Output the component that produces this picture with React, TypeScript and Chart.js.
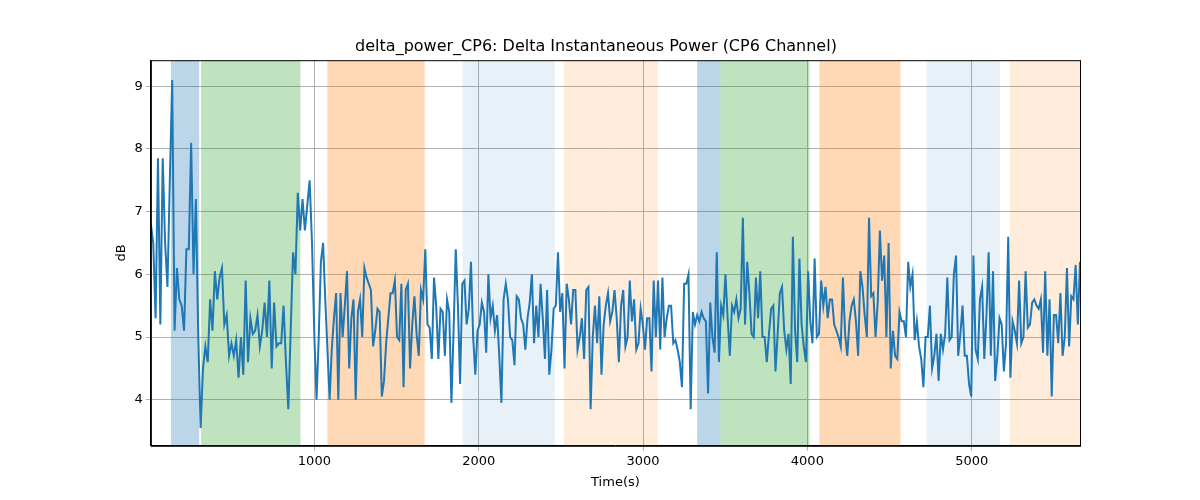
import React, { useEffect, useRef } from "react";
import { Chart, registerables } from "chart.js";
Chart.register(...registerables);

const values: number[] = [6.8, 6.5, 5.3, 7.85, 5.2, 7.85, 6.5, 5.8, 7.5, 9.1, 5.1, 6.1, 5.6, 5.5, 5.1, 6.4, 6.4, 8.1, 6.0, 7.2, 5.0, 3.55, 4.5, 4.85, 4.6, 5.6, 5.1, 6.05, 5.6, 5.95, 6.1, 5.2, 5.35, 4.7, 4.9, 4.7, 4.95, 4.35, 5.0, 4.4, 5.9, 4.6, 5.3, 5.05, 5.1, 5.35, 4.85, 5.1, 5.55, 5.0, 5.9, 4.5, 5.55, 4.85, 4.9, 4.9, 5.5, 4.6, 3.85, 5.1, 6.35, 6.0, 7.3, 6.7, 7.2, 6.7, 7.1, 7.5, 6.5, 5.0, 4.0, 5.0, 6.2, 6.5, 5.6, 4.8, 4.0, 4.8, 5.3, 5.7, 4.0, 5.7, 5.0, 5.5, 6.05, 4.5, 5.3, 5.6, 4.0, 5.4, 5.6, 5.0, 6.1, 5.95, 5.85, 5.75, 4.85, 5.1, 5.45, 5.4, 4.05, 4.3, 4.9, 5.3, 5.7, 5.7, 5.9, 5.0, 4.95, 5.85, 4.2, 5.75, 5.85, 4.5, 5.2, 5.65, 5.05, 4.7, 5.75, 5.6, 6.4, 5.2, 5.15, 4.65, 5.95, 5.5, 4.65, 5.45, 5.4, 4.7, 5.6, 5.4, 3.95, 5.1, 6.4, 5.5, 4.25, 5.85, 5.9, 5.2, 5.45, 6.2, 5.0, 4.4, 5.1, 5.2, 5.55, 5.4, 4.75, 6.0, 5.3, 5.5, 5.1, 5.35, 4.7, 3.95, 5.6, 5.85, 5.6, 5.0, 4.95, 4.55, 5.65, 5.6, 5.3, 5.2, 4.8, 5.3, 5.55, 6.0, 4.9, 5.5, 5.0, 5.85, 5.3, 4.65, 5.75, 4.4, 4.8, 5.45, 5.5, 6.35, 5.4, 5.7, 4.5, 5.85, 5.6, 5.2, 5.75, 5.75, 4.8, 5.0, 5.3, 4.65, 5.75, 5.8, 3.85, 5.0, 5.5, 4.9, 5.65, 4.4, 5.2, 5.5, 5.7, 5.25, 5.4, 5.75, 5.3, 4.6, 5.5, 5.75, 4.85, 5.0, 5.9, 5.25, 5.6, 4.8, 4.9, 5.45, 5.2, 4.8, 5.3, 5.3, 4.45, 5.9, 5.0, 5.9, 4.8, 5.95, 5.0, 5.3, 5.5, 5.5, 4.9, 4.95, 4.8, 4.6, 4.2, 5.85, 5.85, 6.0, 3.85, 5.4, 5.2, 5.35, 5.25, 5.4, 5.3, 5.25, 4.1, 5.55, 5.0, 4.75, 6.35, 4.6, 5.5, 5.35, 6.0, 5.3, 4.7, 5.5, 5.4, 5.6, 5.3, 5.45, 6.9, 5.2, 6.2, 5.7, 5.05, 5.0, 5.95, 5.3, 6.05, 5.0, 5.0, 4.6, 5.05, 5.45, 5.5, 4.45, 5.05, 5.7, 5.8, 5.1, 4.8, 5.05, 4.25, 6.6, 5.1, 4.6, 6.25, 5.2, 4.85, 4.6, 6.05, 5.25, 4.9, 6.25, 5.0, 5.05, 5.9, 5.5, 5.8, 5.3, 5.6, 5.6, 5.2, 5.1, 5.0, 4.85, 5.95, 5.05, 4.7, 5.25, 5.5, 5.6, 5.25, 4.7, 6.05, 5.8, 5.35, 5.0, 6.9, 5.65, 5.7, 5.0, 5.55, 6.7, 5.9, 6.3, 5.0, 6.5, 4.5, 5.1, 4.7, 4.65, 5.4, 5.25, 5.25, 5.0, 6.2, 5.8, 6.0, 4.95, 5.25, 4.85, 4.65, 4.2, 5.0, 5.0, 5.5, 4.5, 4.7, 5.05, 4.3, 5.05, 4.8, 5.05, 5.95, 4.95, 5.0, 6.0, 6.3, 4.7, 5.05, 5.5, 4.7, 4.7, 4.25, 4.05, 6.3, 4.8, 4.65, 5.6, 5.8, 4.65, 5.35, 6.35, 4.7, 6.05, 4.3, 4.7, 5.3, 5.2, 4.45, 4.9, 6.6, 4.35, 5.25, 5.1, 4.9, 5.9, 4.9, 5.0, 6.05, 5.15, 5.2, 5.55, 5.6, 5.5, 5.45, 5.6, 4.75, 6.05, 4.7, 5.6, 4.05, 5.35, 5.35, 4.9, 5.7, 4.7, 5.0, 6.1, 4.85, 5.65, 5.6, 6.15, 5.2, 6.2];

const tStart = 5;
const tEnd = 5659;
const xTicks = [1000, 2000, 3000, 4000, 5000];
const yTicks = [4, 5, 6, 7, 8, 9];
const spanStarts = [127, 311, 1079, 1902, 2518, 3329, 3470, 4073, 4726, 5232];
const spanEnds = [299, 915, 1671, 2463, 3091, 3470, 4012, 4567, 5171, 5700];
const spanColors = [
  "rgba(31,119,180,0.3)", "rgba(44,160,44,0.3)", "rgba(255,127,14,0.3)",
  "rgba(31,119,180,0.1)", "rgba(255,127,14,0.15)",
  "rgba(31,119,180,0.3)", "rgba(44,160,44,0.3)", "rgba(255,127,14,0.3)",
  "rgba(31,119,180,0.1)", "rgba(255,127,14,0.15)",
];

const earlyCount = 70;
const earlyEnd = 1000;
const points = values.map((v, i) => {
  const x = i < earlyCount
    ? tStart + (i * (earlyEnd - tStart)) / (earlyCount - 1)
    : earlyEnd + ((i - earlyCount + 1) * (tEnd - earlyEnd)) / (values.length - earlyCount);
  return { x, y: v };
});

const spanPlugin = {
  id: "spans",
  beforeDatasetsDraw(chart: any) {
    const { ctx, chartArea, scales } = chart;
    ctx.save();
    ctx.beginPath();
    ctx.rect(chartArea.left, chartArea.top, chartArea.right - chartArea.left, chartArea.bottom - chartArea.top);
    ctx.clip();
    spanStarts.forEach((s, i) => {
      const x0 = scales.x.getPixelForValue(s);
      const x1 = scales.x.getPixelForValue(spanEnds[i]);
      ctx.fillStyle = spanColors[i];
      ctx.fillRect(x0, chartArea.top, x1 - x0, chartArea.bottom - chartArea.top);
    });
    ctx.restore();
  },
  afterDraw(chart: any) {
    const { ctx, chartArea } = chart;
    ctx.save();
    ctx.strokeStyle = "#000";
    ctx.lineWidth = 1;
    ctx.strokeRect(chartArea.left + 0.5, chartArea.top + 0.5, chartArea.right - chartArea.left, chartArea.bottom - chartArea.top);
    ctx.restore();
  },
};

export default function App() {
  const ref = useRef<HTMLCanvasElement>(null);
  useEffect(() => {
    const chart = new Chart(ref.current!, {
      type: "line",
      data: {
        datasets: [{ data: points, borderColor: "#1f77b4", borderWidth: 2, pointRadius: 0, tension: 0 }],
      },
      options: {
        animation: false,
        responsive: false,
        layout: { padding: { left: 112, right: 120, top: 33, bottom: 8 } },
        plugins: {
          legend: { display: false },
          tooltip: { enabled: false },
          title: { display: true, text: "delta_power_CP6: Delta Instantaneous Power (CP6 Channel)", color: "#000", font: { family: "DejaVu Sans", size: 16, weight: "normal" }, padding: { top: 4, bottom: 4 } },
        },
        scales: {
          x: {
            type: "linear", min: tStart, max: tEnd,
            afterBuildTicks: (s: any) => { s.ticks = xTicks.map((v) => ({ value: v })); },
            ticks: { color: "#000", font: { family: "DejaVu Sans", size: 13 }, autoSkip: false, callback: (v: any) => String(v) },
            grid: { color: "#b0b0b0", drawTicks: true, tickLength: 5 },
            border: { color: "#000" },
            title: { display: true, text: "Time(s)", color: "#000", font: { family: "DejaVu Sans", size: 13 }, padding: 2 },
          },
          y: {
            min: 3.265, max: 9.415,
            afterBuildTicks: (s: any) => { s.ticks = yTicks.map((v) => ({ value: v })); },
            ticks: { color: "#000", font: { family: "DejaVu Sans", size: 13 }, autoSkip: false },
            grid: { color: "#b0b0b0", tickLength: 5 },
            border: { color: "#000" },
            title: { display: true, text: "dB", color: "#000", font: { family: "DejaVu Sans", size: 13 }, padding: 2 },
          },
        },
      },
      plugins: [spanPlugin],
    });
    return () => chart.destroy();
  }, []);
  return (
    <div style={{ position: "absolute", left: 0, top: 0, width: 1200, height: 500, background: "#fff" }}>
      <canvas ref={ref} width={1200} height={500} />
    </div>
  );
}
